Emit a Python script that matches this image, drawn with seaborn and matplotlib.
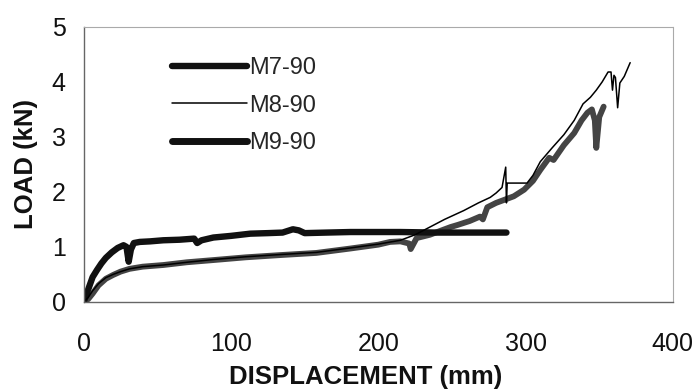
import pandas as pd
import seaborn as sns
import matplotlib.pyplot as plt

# datos (desplazamiento en mm, carga en kN)
m7_x = [0, 2, 4, 6, 9, 12, 15, 19, 23, 27, 29, 30.5, 32, 34, 38, 45, 54, 65, 75, 77, 80, 88, 100,
        113, 125, 135, 142, 146, 150, 165, 181, 200, 215, 240, 260, 287]
m7_y = [0, 0.15, 0.3, 0.45, 0.58, 0.7, 0.8, 0.9, 0.98, 1.03, 1.0, 0.73, 0.95, 1.07, 1.09, 1.1, 1.12,
        1.13, 1.15, 1.07, 1.12, 1.17, 1.2, 1.24, 1.25, 1.26, 1.32, 1.3, 1.25, 1.26, 1.27, 1.27, 1.27,
        1.26, 1.26, 1.26]

m8_x = [0, 3, 6, 10, 15, 20, 25, 31, 40, 54, 70, 88, 110, 133, 158, 181, 200, 215, 225, 235, 245,
        258, 268, 276, 280, 284, 286.5, 287, 287.5, 288, 301, 305, 310, 318, 326, 333, 339, 344, 348,
        352, 356, 358, 359, 360, 361, 362.5, 364, 367, 371]
m8_y = [0, 0.08, 0.2, 0.33, 0.44, 0.5, 0.55, 0.6, 0.64, 0.67, 0.72, 0.77, 0.82, 0.86, 0.9, 0.98, 1.05,
        1.12, 1.22, 1.36, 1.5, 1.66, 1.8, 1.9, 1.98, 2.08, 2.45, 1.8, 2.16, 2.16, 2.16, 2.3, 2.55, 2.8,
        3.04, 3.3, 3.6, 3.72, 3.85, 4.0, 4.18, 4.18, 3.85, 4.12, 4.08, 3.53, 3.98, 4.1, 4.35]

m9_x = [0, 3, 6, 10, 15, 20, 25, 31, 40, 54, 70, 88, 110, 133, 158, 181, 200, 208, 215, 221, 222,
        226, 235, 240, 249, 254, 262, 269, 271, 274, 280, 285, 292, 299, 305, 310, 316, 319, 326, 333,
        338, 342, 345, 347, 348, 350, 353]
m9_y = [0, 0.05, 0.15, 0.3, 0.42, 0.49, 0.55, 0.6, 0.64, 0.67, 0.72, 0.76, 0.81, 0.85, 0.89, 0.97,
        1.04, 1.09, 1.1, 1.06, 0.96, 1.16, 1.22, 1.27, 1.36, 1.4, 1.47, 1.55, 1.5, 1.72, 1.8, 1.85,
        1.92, 2.04, 2.2, 2.4, 2.62, 2.58, 2.85, 3.07, 3.3, 3.44, 3.5, 3.3, 2.8, 3.36, 3.55]

df7 = pd.DataFrame({'x': m7_x, 'y': m7_y})
df8 = pd.DataFrame({'x': m8_x, 'y': m8_y})
df9 = pd.DataFrame({'x': m9_x, 'y': m9_y})

sns.set_style('white')
plt.rcParams['font.family'] = ['Liberation Sans', 'DejaVu Sans']

fig, ax = plt.subplots(figsize=(6.98, 3.9), dpi=100)
fig.subplots_adjust(left=0.120, right=0.964, bottom=0.226, top=0.931)

sns.lineplot(data=df9, x='x', y='y', ax=ax, color='#444444', linewidth=4.2,
             estimator=None, sort=False, label='_m9')
sns.lineplot(data=df7, x='x', y='y', ax=ax, color='#111111', linewidth=4.6,
             estimator=None, sort=False, label='_m7')
sns.lineplot(data=df8, x='x', y='y', ax=ax, color='black', linewidth=1.1,
             estimator=None, sort=False, label='_m8')

# leyenda en el orden original
h7, = ax.plot([], [], color='#111111', linewidth=4.6)
h8, = ax.plot([], [], color='black', linewidth=1.1)
h9, = ax.plot([], [], color='#111111', linewidth=5.0, solid_capstyle='round')
ax.legend([h7, h8, h9], ['M7-90', 'M8-90', 'M9-90'], loc='upper left',
          bbox_to_anchor=(0.133, 0.925), frameon=False, fontsize=17,
          handlelength=3.2, handletextpad=0.1, labelspacing=0.66, borderaxespad=0)

ax.set_xlim(0, 400)
ax.set_ylim(0, 5)
ax.set_xticks([0, 100, 200, 300, 400])
ax.set_yticks([0, 1, 2, 3, 4, 5])
ax.tick_params(axis='both', direction='in', length=4, width=0.8, color='#777777',
               labelsize=18, labelcolor='#111111')
ax.tick_params(axis='y', pad=13)
ax.tick_params(axis='x', pad=22)

for side in ['left', 'bottom']:
    ax.spines[side].set_color('#666666')
    ax.spines[side].set_linewidth(1.0)
for side in ['top', 'right']:
    ax.spines[side].set_color('#aaaaaa')
    ax.spines[side].set_linewidth(0.8)
    ax.spines[side].set_linestyle((0, (2, 1)))

ax.set_xlabel('DISPLACEMENT (mm)', fontsize=18.5, fontweight='bold', labelpad=6,
              color='#111111')
ax.xaxis.label.set_x(0.478)
ax.set_ylabel('LOAD (kN)', fontsize=18.5, fontweight='bold', labelpad=10,
              color='#111111')

plt.savefig('out.png', dpi=100)
